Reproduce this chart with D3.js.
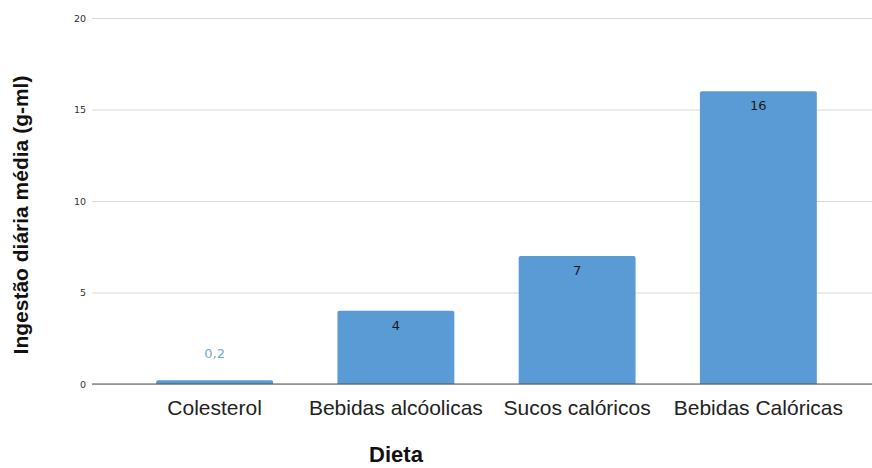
<!DOCTYPE html>
<html>
<head>
<meta charset="utf-8">
<script src="https://cdn.jsdelivr.net/npm/d3@7"></script>
<style>
  html, body { margin: 0; padding: 0; background: #fff; }
  svg { display: block; font-family: "Liberation Sans", Arial, sans-serif; }
</style>
</head>
<body>
<svg id="chart" width="872" height="468"></svg>
<script>
// Ingestão diária média por item da dieta
const categories = ["Colesterol", "Bebidas alcóolicas", "Sucos calóricos", "Bebidas Calóricas"];
const values = [0.2, 4, 7, 16];
const valueLabels = ["0,2", "4", "7", "16"];
const yTicks = [0, 5, 10, 15, 20];

const svg = d3.select("#chart");
const width = 872;
const gridLeft = 92;

const x = d3.scaleBand()
  .domain(categories)
  .range([124, 849])
  .paddingInner(0.355)
  .paddingOuter(0.1775);

const y = d3.scaleLinear().domain([0, 20]).range([384, 18]);

// Horizontal gridlines and tick labels
const yAxis = d3.axisLeft(y).tickValues(yTicks).tickSize(-(width - gridLeft)).tickPadding(6).tickFormat(d3.format("d"));
const gy = svg.append("g").attr("transform", `translate(${gridLeft},0)`).call(yAxis);
gy.select(".domain").remove();
gy.selectAll(".tick line").attr("stroke", "#d9d9d9").attr("stroke-width", 1);
gy.selectAll(".tick text").attr("fill", "#333").attr("font-size", 9.5).attr("font-family", "DejaVu Sans, sans-serif");

// Bars with slightly rounded tops
const r = 2;
svg.append("g").selectAll("path").data(categories).join("path")
  .attr("fill", "#5b9bd5")
  .attr("d", (c, i) => {
    const x0 = x(c), w = x.bandwidth();
    const top = y(values[i]), base = y(0);
    const rr = Math.min(r, (base - top) / 2);
    return `M${x0},${base}V${top + rr}Q${x0},${top} ${x0 + rr},${top}H${x0 + w - rr}Q${x0 + w},${top} ${x0 + w},${top + rr}V${base}Z`;
  });

// Baseline
svg.append("line")
  .attr("x1", gridLeft).attr("x2", width)
  .attr("y1", y(0)).attr("y2", y(0))
  .attr("stroke", "#555").attr("stroke-width", 1);

// Value labels: inside the bar when it is tall enough, above it otherwise
const inside = i => y(0) - y(values[i]) > 25;
svg.append("g").selectAll("text").data(categories).join("text")
  .attr("x", c => x(c) + x.bandwidth() / 2)
  .attr("y", (c, i) => inside(i) ? y(values[i]) + 19 : y(values[i]) - 22)
  .attr("text-anchor", "middle")
  .attr("font-size", 13)
  .attr("font-family", "DejaVu Sans, sans-serif")
  .attr("fill", (c, i) => inside(i) ? "#1a1a1a" : "#6fa8dc")
  .text((c, i) => valueLabels[i]);

// Category labels
svg.append("g").selectAll("text").data(categories).join("text")
  .attr("x", c => x(c) + x.bandwidth() / 2)
  .attr("y", 415)
  .attr("text-anchor", "middle")
  .attr("font-size", 21)
  .attr("fill", "#222")
  .text(c => c);

// Axis titles
svg.append("text")
  .attr("x", 396).attr("y", 462)
  .attr("text-anchor", "middle")
  .attr("font-size", 22).attr("font-weight", "bold").attr("fill", "#111")
  .text("Dieta");

svg.append("text")
  .attr("transform", "translate(28,215) rotate(-90)")
  .attr("text-anchor", "middle")
  .attr("font-size", 21).attr("font-weight", "bold").attr("fill", "#111")
  .text("Ingestão diária média (g-ml)");
</script>
</body>
</html>
